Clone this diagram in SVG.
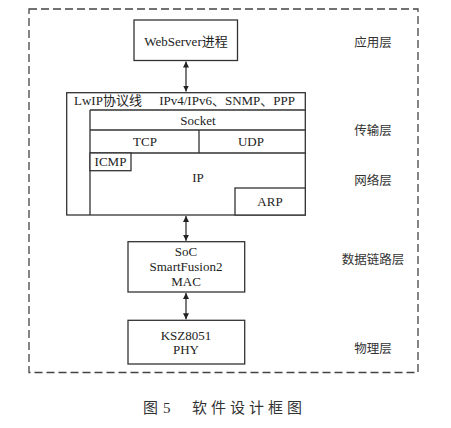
<svg xmlns="http://www.w3.org/2000/svg" width="451" height="428" viewBox="0 0 451 428">
<defs>
<style>
.box{fill:#fff;stroke:#333;stroke-width:1.3}
.ln{fill:none;stroke:#333;stroke-width:1.3}
.t{font-family:"Liberation Serif","Noto Sans CJK SC",serif;font-size:13px;fill:#222}
.c{text-anchor:middle}
.lab{font-family:"Liberation Serif","Noto Sans CJK SC",serif;font-size:12.5px;fill:#333;text-anchor:middle}
.cap{font-family:"Liberation Serif","Noto Sans CJK SC",serif;font-size:15px;fill:#333}
.arr{stroke:#222;stroke-width:1.2;fill:none;marker-start:url(#ah);marker-end:url(#ah)}
</style>
<marker id="ah" viewBox="0 0 10 10" refX="10" refY="5" markerWidth="6" markerHeight="6" markerUnits="userSpaceOnUse" orient="auto-start-reverse">
<path d="M0,0 L10,5 L0,10 Z" fill="#222"/>
</marker>
</defs>
<rect width="451" height="428" fill="#fff"/>
<rect id="frame" x="29" y="9" width="389" height="363.5" fill="none" stroke="#444" stroke-width="1.3" stroke-dasharray="8 4"/>

<g id="webserver">
<rect class="box" x="134" y="20" width="103.5" height="40.5"/>
<text class="t c" x="186" y="45.5">WebServer进程</text>
</g>

<g id="lwip">
<rect class="box" x="66.7" y="92.7" width="238.6" height="122.3"/>
<text class="t" x="74" y="105">LwIP协议线</text>
<text class="t" x="295" y="105" text-anchor="end">IPv4/IPv6、SNMP、PPP</text>
<path class="ln" d="M90,110 V215 M90,110 H305.3 M90,130 H305.3 M199,130 V153 M90,153 H305.3"/>
</g>
<g id="socket"><text class="t c" x="198" y="124.5">Socket</text></g>
<g id="tcp"><text class="t c" x="145" y="145.5">TCP</text></g>
<g id="udp"><text class="t c" x="251" y="145.5">UDP</text></g>
<g id="icmp">
<rect class="box" x="90" y="153" width="41" height="17.7"/>
<text class="t c" x="110.5" y="166">ICMP</text>
</g>
<g id="ip"><text class="t c" x="198" y="182">IP</text></g>
<g id="arp">
<rect class="box" x="235" y="188" width="70.3" height="27"/>
<text class="t c" x="270" y="205.5">ARP</text>
</g>

<g id="mac">
<rect class="box" x="128" y="241.7" width="116.7" height="50.3"/>
<text class="t c" x="186" y="256">SoC</text>
<text class="t c" x="186" y="271">SmartFusion2</text>
<text class="t c" x="186" y="286">MAC</text>
</g>

<g id="phy">
<rect class="box" x="128" y="320.3" width="116.7" height="43.7"/>
<text class="t c" x="186" y="339.5">KSZ8051</text>
<text class="t c" x="186" y="354">PHY</text>
</g>

<g id="connectors">
<line class="arr" x1="186" y1="61.5" x2="186" y2="91.5"/>
<line class="arr" x1="186" y1="216" x2="186" y2="240.7"/>
<line class="arr" x1="186" y1="293" x2="186" y2="319.3"/>
</g>

<g id="layers">
<text class="lab" x="373" y="47">应用层</text>
<text class="lab" x="373" y="134.5">传输层</text>
<text class="lab" x="373" y="184.5">网络层</text>
<text class="lab" x="373" y="263.5">数据链路层</text>
<text class="lab" x="373" y="352.8">物理层</text>
</g>

<g id="caption">
<text class="cap" x="143" y="413">图<tspan x="163">5</tspan></text>
<text class="cap" x="192" y="413" letter-spacing="4">软件设计框图</text>
</g>
</svg>
